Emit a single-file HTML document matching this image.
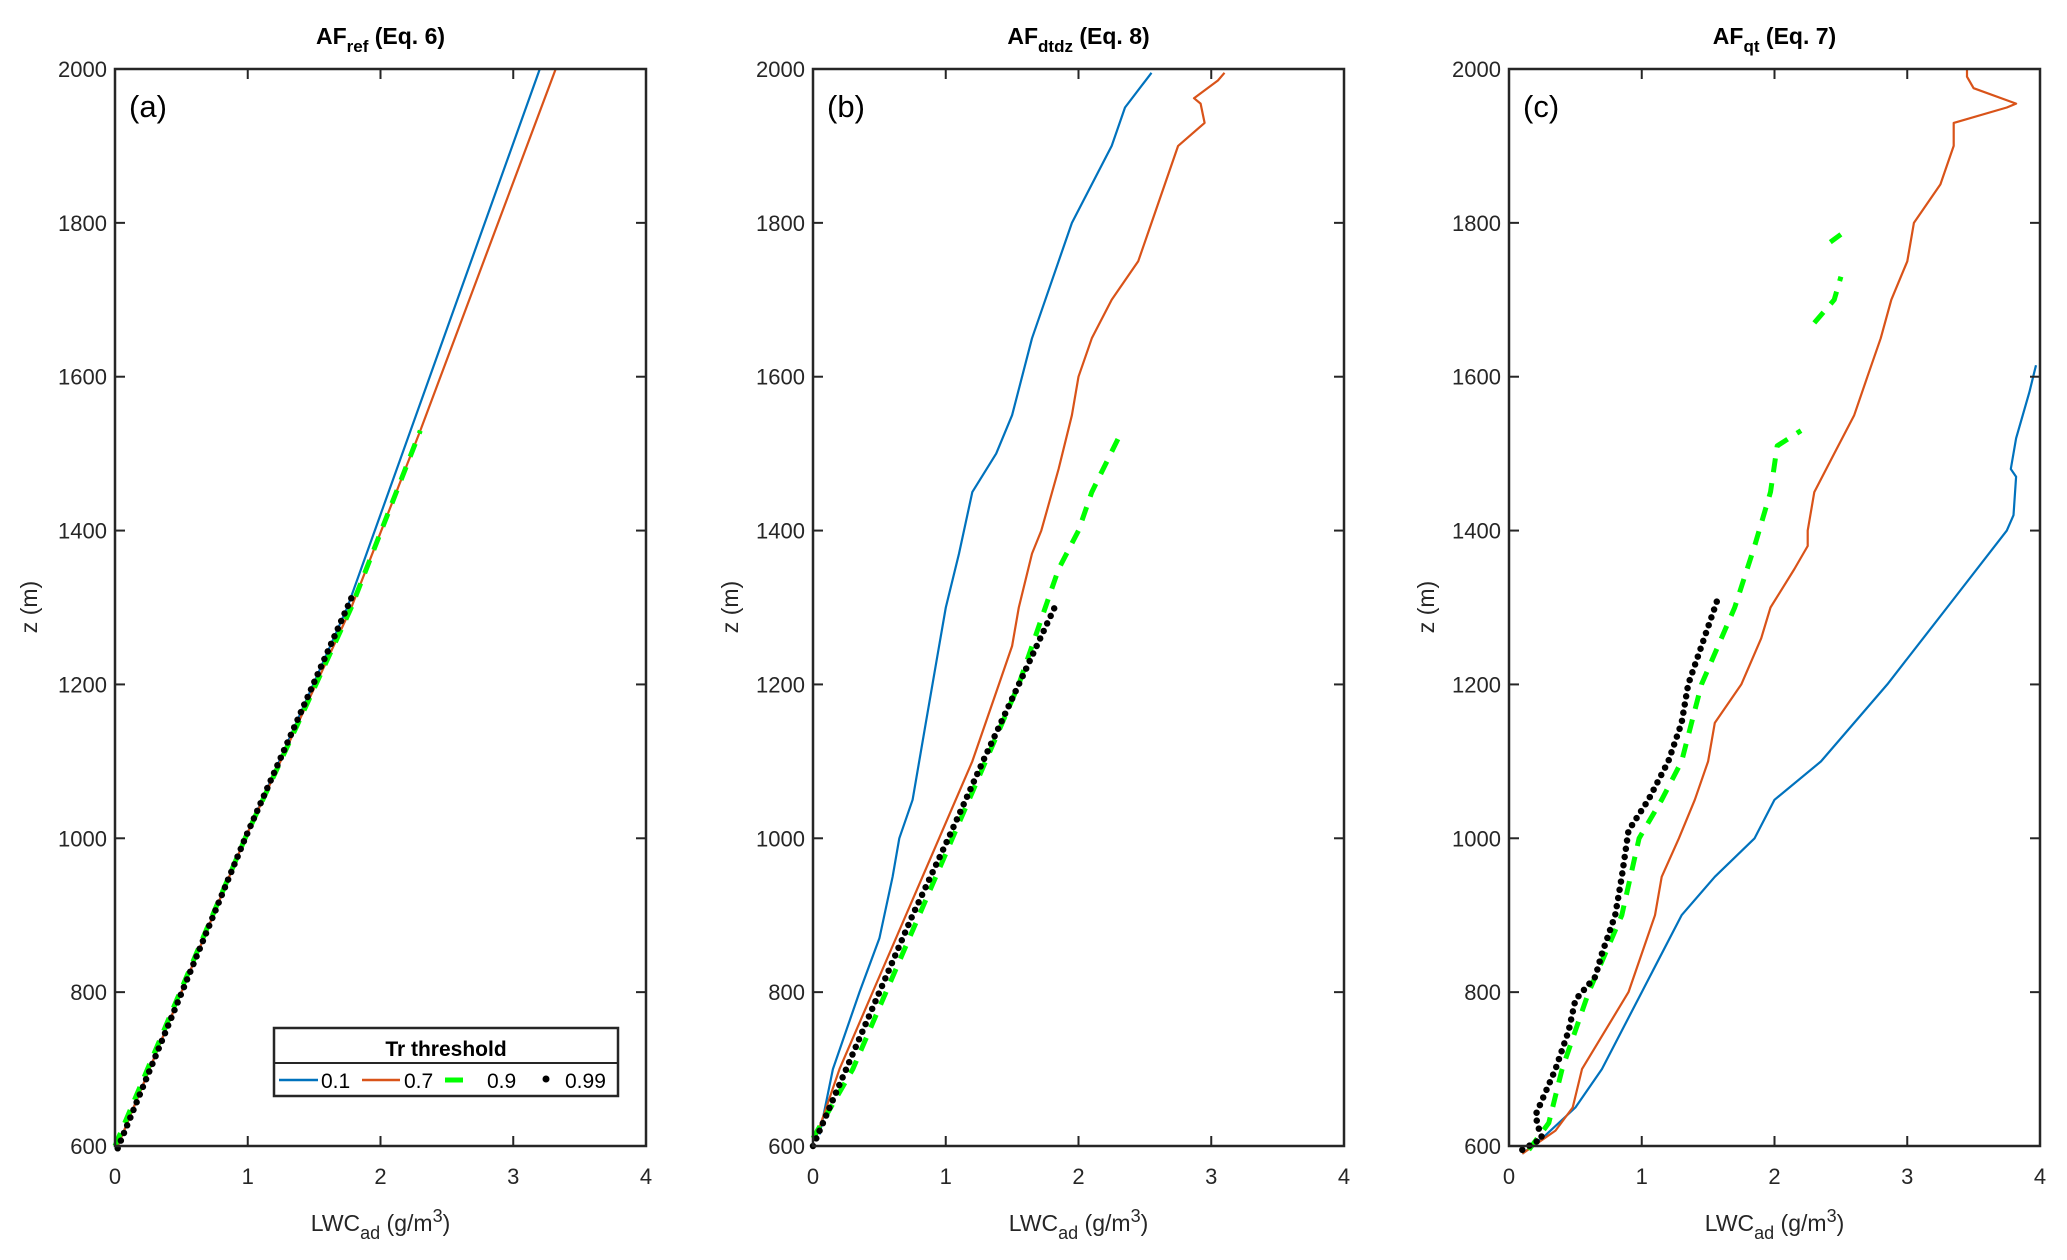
<!DOCTYPE html>
<html><head><meta charset="utf-8">
<style>
html,body{margin:0;padding:0;background:#fff;}
svg{display:block;font-family:"Liberation Sans",Arial,sans-serif;}
</style></head>
<body>
<svg id="fig" width="2067" height="1260" viewBox="0 0 2067 1260" xmlns="http://www.w3.org/2000/svg">
<g id="layer"></g>
<g>
  <rect x="274" y="1028" width="344" height="68" fill="#fff" stroke="#262626" stroke-width="2.5"/>
  <line x1="274" y1="1063" x2="618" y2="1063" stroke="#262626" stroke-width="2"/>
  <text x="446" y="1056" text-anchor="middle" font-size="21" font-weight="bold" fill="#000">Tr threshold</text>
  <line x1="279" y1="1080" x2="318" y2="1080" stroke="#0072BD" stroke-width="2.5"/>
  <text x="321" y="1088" font-size="21">0.1</text>
  <line x1="362" y1="1080" x2="400" y2="1080" stroke="#D95319" stroke-width="2.5"/>
  <text x="404" y="1088" font-size="21">0.7</text>
  <line x1="445" y1="1080" x2="463" y2="1080" stroke="#00FF00" stroke-width="5"/>
  <text x="487" y="1088" font-size="21">0.9</text>
  <circle cx="546" cy="1079" r="3.5" fill="#000"/>
  <text x="565" y="1088" font-size="21">0.99</text>
</g>
</svg>
<script>
// x tick labels / y tick labels
const xTicks = [0,1,2,3,4];
const yTicks = [600,800,1000,1200,1400,1600,1800,2000];

// Panel a (AF_ref): z values and LWC values
const aBlueZ = [600,1000,1300,2000];
const aBlueX = [0.02,0.98,1.75,3.2];
const aOrangeZ = [600,1000,1300,1530,2000];
const aOrangeX = [0.02,0.98,1.78,2.3,3.32];
const aGreenZ = [600,1000,1300,1530];
const aGreenX = [0,0.98,1.78,2.3];
const aBlackZ = [597,1000,1320];
const aBlackX = [0.02,0.98,1.8];

// Panel b (AF_dtdz)
const bBlueZ = [615,700,800,870,950,1000,1050,1150,1250,1300,1370,1450,1500,1550,1650,1700,1750,1800,1850,1900,1950,1995];
const bBlueX = [0.05,0.15,0.35,0.5,0.6,0.65,0.75,0.85,0.95,1.0,1.1,1.2,1.38,1.5,1.65,1.75,1.85,1.95,2.1,2.25,2.35,2.55];
const bOrangeZ = [610,700,800,900,1000,1100,1200,1250,1300,1370,1400,1480,1550,1600,1650,1700,1750,1800,1850,1900,1930,1955,1962,1985,1995];
const bOrangeX = [0.02,0.2,0.45,0.7,0.95,1.2,1.4,1.5,1.55,1.65,1.72,1.85,1.95,2.0,2.1,2.25,2.45,2.55,2.65,2.75,2.95,2.92,2.87,3.05,3.1];
const bGreenZ = [610,700,800,900,1000,1100,1200,1300,1350,1400,1450,1520];
const bGreenX = [0,0.3,0.55,0.8,1.05,1.3,1.55,1.75,1.85,2.0,2.1,2.3];
const bBlackZ = [600,700,800,900,1000,1100,1200,1300];
const bBlackX = [0,0.25,0.5,0.75,1.02,1.28,1.55,1.82];

// Panel c (AF_qt)
const cBlueZ = [590,610,650,700,800,900,950,1000,1050,1100,1200,1300,1400,1420,1470,1480,1520,1580,1615];
const cBlueX = [0.1,0.25,0.5,0.7,1.0,1.3,1.55,1.85,2.0,2.35,2.85,3.3,3.75,3.8,3.82,3.78,3.82,3.92,3.97];
const cOrangeZ = [590,620,650,700,800,900,950,1000,1050,1100,1150,1200,1260,1300,1350,1380,1400,1450,1500,1550,1600,1650,1700,1750,1800,1850,1900,1930,1950,1955,1975,1990,2000];
const cOrangeX = [0.1,0.35,0.48,0.55,0.9,1.1,1.15,1.28,1.4,1.5,1.55,1.75,1.9,1.97,2.15,2.25,2.25,2.3,2.45,2.6,2.7,2.8,2.88,3.0,3.05,3.25,3.35,3.35,3.75,3.82,3.5,3.45,3.45];
const cGreenZ = [595,630,700,800,900,1000,1050,1100,1200,1300,1380,1450,1510,1530,null,1670,1700,1730,null,1775,1785];
const cGreenX = [0.15,0.3,0.4,0.6,0.85,0.98,1.15,1.3,1.45,1.7,1.85,1.97,2.02,2.2,null,2.3,2.45,2.5,null,2.42,2.5];
const cBlackZ = [595,610,625,640,660,700,750,790,820,850,900,950,1010,1050,1100,1150,1200,1250,1300,1315];
const cBlackX = [0.1,0.25,0.22,0.2,0.25,0.35,0.45,0.5,0.65,0.7,0.8,0.85,0.9,1.05,1.2,1.3,1.35,1.45,1.55,1.58];

const panels = [
 {id:'a', left:115, title:['AF','ref',' (Eq. 6)'], series:[[aBlueZ,aBlueX],[aOrangeZ,aOrangeX],[aGreenZ,aGreenX],[aBlackZ,aBlackX]], ylab:29},
 {id:'b', left:813, title:['AF','dtdz',' (Eq. 8)'], series:[[bBlueZ,bBlueX],[bOrangeZ,bOrangeX],[bGreenZ,bGreenX],[bBlackZ,bBlackX]], ylab:730},
 {id:'c', left:1509, title:['AF','qt',' (Eq. 7)'], series:[[cBlueZ,cBlueX],[cOrangeZ,cOrangeX],[cGreenZ,cGreenX],[cBlackZ,cBlackX]], ylab:1426}
];
const W = 531, TOP = 69, BOT = 1146;
const NS = 'http://www.w3.org/2000/svg';
const layer = document.getElementById('layer');
function mk(tag, attrs, parent){
  const e = document.createElementNS(NS, tag);
  for (const k in attrs) e.setAttribute(k, attrs[k]);
  (parent||layer).appendChild(e);
  return e;
}
const styles = [
  {stroke:'#0072BD','stroke-width':2.2, name:'series-0.1'},
  {stroke:'#D95319','stroke-width':2.2, name:'series-0.7'},
  {stroke:'#00FF00','stroke-width':5,'stroke-dasharray':'14 11', name:'series-0.9'},
  {stroke:'#000','stroke-width':6.5,'stroke-dasharray':'0 8.3','stroke-linecap':'round', name:'series-0.99'}
];
panels.forEach(p=>{
  const xs = v => p.left + v/4*W;
  const ys = z => BOT - (z-600)/1400*(BOT-TOP);
  const g = mk('g',{});
  
  
  p.series.forEach((s,i)=>{
    const [Z,X] = s;
    let d = '', pen = false;
    for (let k=0;k<Z.length;k++){
      if (Z[k]===null){pen=false;continue;}
      d += (pen?'L':'M') + xs(X[k]).toFixed(1)+','+ys(Z[k]).toFixed(1)+' ';
      pen = true;
    }
    const st = styles[i];
    const path = mk('path',{d:d,fill:'none',stroke:st.stroke,'stroke-width':st['stroke-width'],'stroke-linejoin':'round'},g);
    if (st['stroke-dasharray']) path.setAttribute('stroke-dasharray', st['stroke-dasharray']);
    if (st['stroke-linecap']) path.setAttribute('stroke-linecap', st['stroke-linecap']);
    
    
  });
  const box = mk('rect',{x:p.left,y:TOP,width:W,height:BOT-TOP,fill:'none',stroke:'#262626','stroke-width':2.5},g);
  
  
  xTicks.forEach(t=>{
    const x = xs(t);
    mk('line',{x1:x,y1:BOT,x2:x,y2:BOT-10,stroke:'#262626','stroke-width':2},g);
    mk('line',{x1:x,y1:TOP,x2:x,y2:TOP+10,stroke:'#262626','stroke-width':2},g);
    const tx = mk('text',{x:x,y:1184,'text-anchor':'middle','font-size':22,fill:'#262626'},g);
    tx.textContent = t;
    
    
  });
  yTicks.forEach(t=>{
    const y = ys(t);
    mk('line',{x1:p.left,y1:y,x2:p.left+10,y2:y,stroke:'#262626','stroke-width':2},g);
    mk('line',{x1:p.left+W,y1:y,x2:p.left+W-10,y2:y,stroke:'#262626','stroke-width':2},g);
    const ty = mk('text',{x:p.left-8,y:y+8,'text-anchor':'end','font-size':22,fill:'#262626'},g);
    ty.textContent = t;
    
    
  });
  const tt = mk('text',{x:p.left+W/2,y:44,'text-anchor':'middle','font-size':23,'font-weight':'bold',fill:'#000'},g);
  
  
  const t1 = mk('tspan',{},tt); t1.textContent = p.title[0];
  const t2 = mk('tspan',{dy:8,'font-size':17},tt); t2.textContent = p.title[1];
  const t3 = mk('tspan',{dy:-8},tt); t3.textContent = p.title[2];
  const pl = mk('text',{x:p.left+14,y:117,'font-size':31,fill:'#000'},g);
  pl.textContent = '('+p.id+')';
  
  
  const xl = mk('text',{x:p.left+W/2,y:1231,'text-anchor':'middle','font-size':23,fill:'#262626'},g);
  
  
  const a1 = mk('tspan',{},xl); a1.textContent='LWC';
  const a2 = mk('tspan',{dy:8,'font-size':18},xl); a2.textContent='ad';
  const a3 = mk('tspan',{dy:-8},xl); a3.textContent=' (g/m';
  const a4 = mk('tspan',{dy:-9,'font-size':18},xl); a4.textContent='3';
  const a5 = mk('tspan',{dy:9},xl); a5.textContent=')';
  const yl = mk('text',{x:0,y:0,'text-anchor':'middle','font-size':23,fill:'#262626',transform:'translate('+(p.ylab+8)+',607) rotate(-90)'},g);
  yl.textContent = 'z (m)';
  
  
});
</script>
</body></html>
